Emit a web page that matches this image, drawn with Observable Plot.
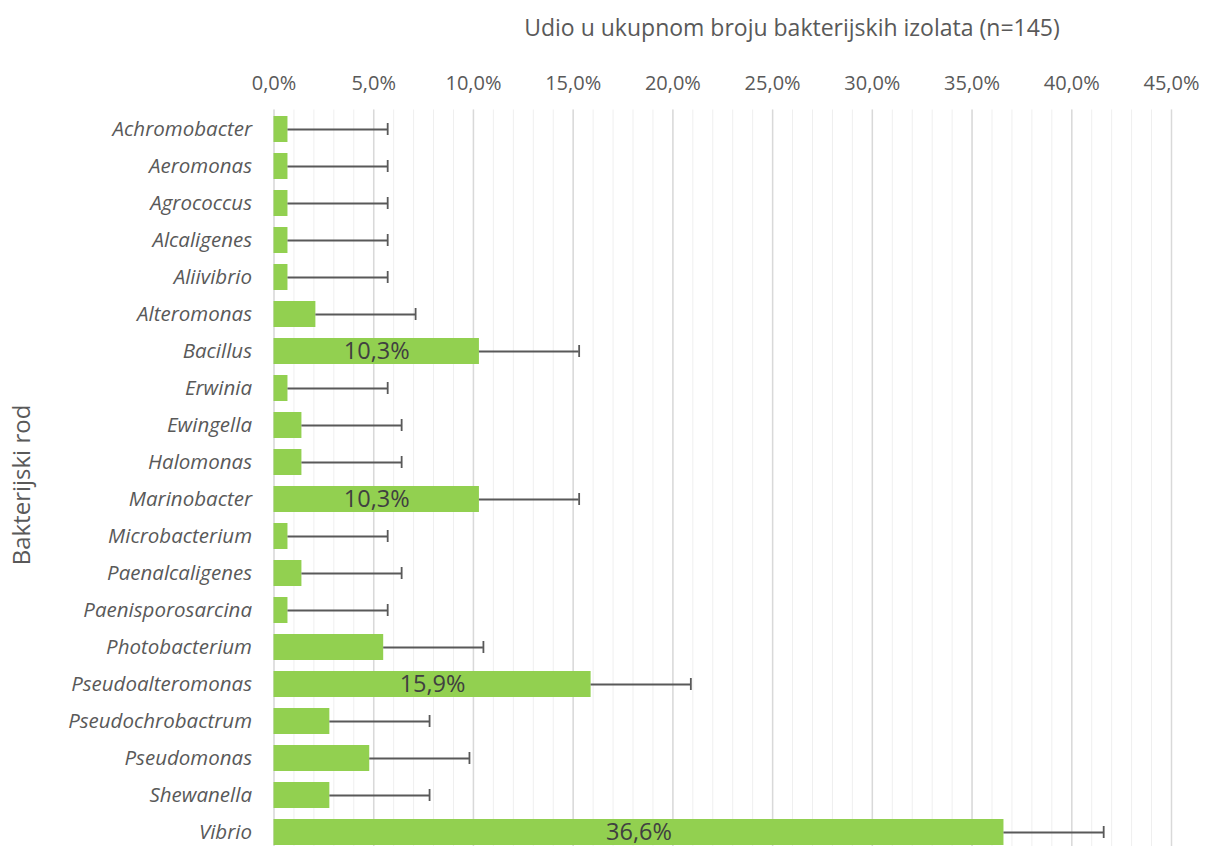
<!DOCTYPE html>
<html><head><meta charset="utf-8">
<script src="https://cdn.jsdelivr.net/npm/d3@7"></script>
<script src="https://cdn.jsdelivr.net/npm/@observablehq/plot@0.6"></script>
<style>
html,body{margin:0;padding:0;overflow:hidden;background:#fff;}
#wrap{position:relative;width:1205px;height:846px;overflow:hidden;font-family:"Open Sans",sans-serif;color:#595959;}
#title{position:absolute;left:792px;top:27px;transform:translate(-50%,-50%);white-space:nowrap;font-size:23px;}
#ylabel{position:absolute;left:20px;top:485px;transform:translate(-50%,-50%) rotate(-90deg);white-space:nowrap;font-size:24px;}
#chart{position:absolute;left:0;top:0;}
</style></head><body>
<div id="wrap">
<div id="chart"></div>
<div id="title">Udio u ukupnom broju bakterijskih izolata (n=145)</div>
<div id="ylabel">Bakterijski rod</div>
</div>
<script>
const genera = ["Achromobacter","Aeromonas","Agrococcus","Alcaligenes","Aliivibrio","Alteromonas","Bacillus","Erwinia","Ewingella","Halomonas","Marinobacter","Microbacterium","Paenalcaligenes","Paenisporosarcina","Photobacterium","Pseudoalteromonas","Pseudochrobactrum","Pseudomonas","Shewanella","Vibrio"];
const shares = [0.7,0.7,0.7,0.7,0.7,2.1,10.3,0.7,1.4,1.4,10.3,0.7,1.4,0.7,5.5,15.9,2.8,4.8,2.8,36.6];
const errors = [5,5,5,5,5,5,5,5,5,5,5,5,5,5,5,5,5,5,5,5];
const majorTicks = [0,5,10,15,20,25,30,35,40,45];
const minorTicks = [0,1,2,3,4,5,6,7,8,9,10,11,12,13,14,15,16,17,18,19,20,21,22,23,24,25,26,27,28,29,30,31,32,33,34,35,36,37,38,39,40,41,42,43,44,45];

const rows = genera.map((g, i) => ({genus: g, value: shares[i], err: errors[i]}));
const fmt = v => v.toFixed(1).replace(".", ",") + "%";

const chart = Plot.plot({
  width: 1205, height: 851,
  marginTop: 109.5, marginBottom: 0, marginLeft: 273.5, marginRight: 34,
  style: {fontFamily: "'Open Sans', sans-serif", background: "transparent", overflow: "visible"},
  x: {domain: [0, 45]},
  y: {domain: genera, paddingInner: 0.3, paddingOuter: 0.15},
  marks: [
    Plot.ruleX(minorTicks, {stroke: "#efefef", strokeWidth: 1}),
    Plot.ruleX(majorTicks, {stroke: "#d9d9d9", strokeWidth: 1.5}),
    Plot.axisX({anchor: "top", ticks: majorTicks, tickSize: 0, tickPadding: 20, tickFormat: fmt, fontSize: 20, fill: "#595959", label: null}),
    Plot.axisY({tickSize: 0, tickPadding: 22, fontSize: 20.5, fontStyle: "italic", fill: "#595959", label: null}),
    Plot.barX(rows, {x: "value", y: "genus", fill: "#92d050"}),
    Plot.ruleY(rows, {y: "genus", x1: "value", x2: d => d.value + d.err, stroke: "#595959", strokeWidth: 1.8}),
    Plot.tickX(rows, {x: d => d.value + d.err, y: "genus", stroke: "#595959", strokeWidth: 1.8, insetTop: 7, insetBottom: 7}),
    Plot.text(rows.filter(d => d.value > 10), {x: d => d.value / 2, y: "genus", text: d => fmt(d.value), fontSize: 23.5, fill: "#404040"})
  ]
});
document.getElementById("chart").appendChild(chart);
</script>
</body></html>
